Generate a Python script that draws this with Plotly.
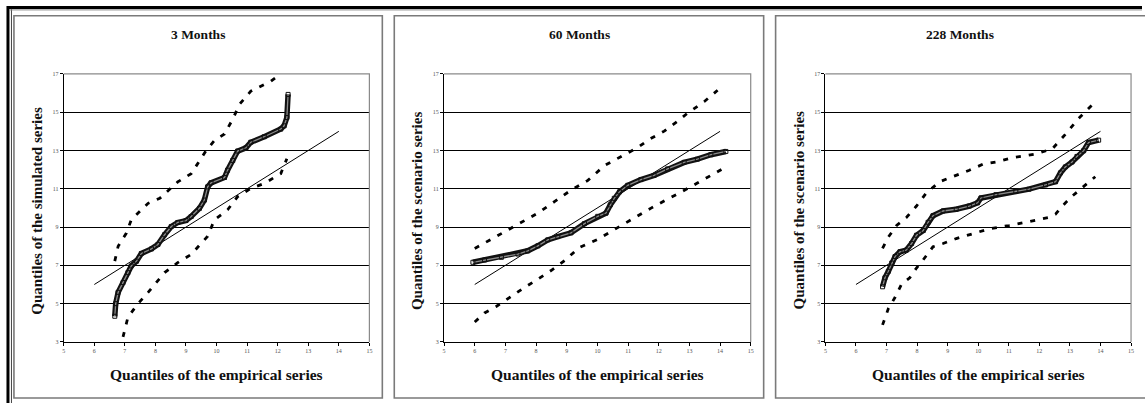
import plotly.graph_objects as go

# ---- Q-Q data (empirical quantile, simulated/scenario quantile) ----
# 3 months
m3_x = [6.67, 6.70, 6.78, 6.94, 7.10, 7.21, 7.38, 7.54, 7.87, 8.08, 8.30, 8.52, 8.73, 9.00,
        9.17, 9.44, 9.60, 9.71, 9.82, 10.26, 10.36, 10.53, 10.69, 10.96, 11.12, 11.56, 12.10,
        12.21, 12.30, 12.34]
m3_y = [4.34, 5.00, 5.59, 6.10, 6.62, 6.97, 7.22, 7.62, 7.86, 8.09, 8.60, 9.03, 9.24, 9.34,
        9.55, 9.98, 10.41, 11.10, 11.31, 11.59, 11.97, 12.48, 12.97, 13.14, 13.43, 13.72, 14.12,
        14.29, 14.72, 15.93]
m3_up_x = [6.67, 6.78, 7.05, 7.21, 7.76, 8.14, 8.73, 9.17, 9.66, 9.93, 10.26, 10.53, 10.75,
           11.12, 11.78, 12.10]
m3_up_y = [7.22, 8.00, 8.69, 9.38, 10.24, 10.50, 11.36, 11.79, 13.00, 13.52, 13.86, 14.64,
           15.41, 16.10, 16.62, 17.00]
m3_lo_x = [6.94, 7.10, 7.43, 7.76, 8.30, 8.73, 9.17, 9.71, 9.93, 10.36, 10.69, 11.12, 11.56,
           12.10, 12.30]
m3_lo_y = [3.26, 4.29, 5.00, 5.59, 6.62, 7.14, 7.57, 8.52, 9.38, 9.90, 10.59, 11.02, 11.28,
           11.79, 12.57]

# 60 months
m60_x = [5.94, 6.32, 6.87, 7.41, 7.73, 8.06, 8.38, 8.71, 9.14, 9.58, 10.01, 10.28, 10.42,
         10.55, 10.72, 10.99, 11.42, 11.85, 12.29, 12.83, 13.26, 13.70, 14.19]
m60_y = [7.16, 7.28, 7.42, 7.59, 7.76, 8.02, 8.33, 8.50, 8.70, 9.18, 9.56, 9.73, 10.16,
         10.50, 10.84, 11.18, 11.48, 11.70, 12.04, 12.38, 12.55, 12.78, 12.95]
m60_up_x = [6.00, 6.43, 7.08, 7.57, 8.06, 8.60, 9.14, 9.69, 10.23, 10.88, 11.31, 11.69,
            12.18, 12.61, 12.94, 13.48, 13.92]
m60_up_y = [7.88, 8.27, 8.87, 9.30, 9.73, 10.33, 10.93, 11.44, 12.21, 12.78, 13.15, 13.58,
            14.01, 14.52, 14.95, 15.55, 16.15]
m60_lo_x = [6.00, 6.32, 6.70, 7.08, 7.57, 8.00, 8.49, 8.93, 9.41, 10.01, 10.55, 10.99,
            11.31, 11.75, 12.23, 12.61, 13.26, 13.70, 14.08]
m60_lo_y = [4.04, 4.51, 4.85, 5.28, 5.79, 6.22, 6.73, 7.25, 7.93, 8.36, 8.87, 9.30, 9.59,
            9.99, 10.41, 10.72, 11.30, 11.70, 12.04]

# 228 months
m228_x = [6.87, 6.95, 7.06, 7.17, 7.28, 7.44, 7.65, 7.82, 7.98, 8.20, 8.36, 8.52, 8.85,
          9.28, 9.71, 9.98, 10.09, 10.58, 11.23, 11.66, 12.20, 12.53, 12.69, 12.85, 13.07,
          13.23, 13.45, 13.61, 13.94]
m228_y = [5.88, 6.35, 6.69, 7.12, 7.46, 7.71, 7.80, 8.14, 8.57, 8.82, 9.25, 9.59, 9.84,
          9.93, 10.10, 10.27, 10.52, 10.69, 10.86, 10.98, 11.20, 11.37, 11.83, 12.14, 12.40,
          12.69, 12.99, 13.42, 13.54]
m228_up_x = [6.87, 7.06, 7.33, 7.65, 7.98, 8.30, 8.74, 9.17, 9.71, 10.15, 10.58, 11.12,
             11.88, 12.42, 12.85, 13.29, 13.72]
m228_up_y = [7.89, 8.48, 9.08, 9.50, 10.10, 10.78, 11.37, 11.63, 11.97, 12.28, 12.40, 12.62,
             12.82, 13.08, 13.84, 14.69, 15.37]
m228_lo_x = [6.87, 7.06, 7.28, 7.49, 7.76, 7.98, 8.20, 8.52, 8.85, 9.28, 9.82, 10.36,
             11.01, 11.66, 12.31, 12.53, 12.75, 13.07, 13.45, 13.83]
m228_lo_y = [3.89, 4.74, 5.33, 6.01, 6.35, 6.86, 7.29, 7.97, 8.14, 8.40, 8.65, 8.91, 9.08,
             9.28, 9.50, 9.67, 10.10, 10.61, 11.12, 11.63]

# 45-degree reference line
ref_x = [6, 14]
ref_y = [6, 14]

titles = ["3 Months", "60 Months", "228 Months"]
y_titles = ["Quantiles of the simulated series",
            "Quantiles of the scenario series",
            "Quantiles of the scenario series"]
x_title = "Quantiles of the empirical series"
x_ticks = list(range(5, 16))
y_ticks = list(range(3, 18, 2))

panels = [
    (m3_x, m3_y, m3_up_x, m3_up_y, m3_lo_x, m3_lo_y),
    (m60_x, m60_y, m60_up_x, m60_up_y, m60_lo_x, m60_lo_y),
    (m228_x, m228_y, m228_up_x, m228_up_y, m228_lo_x, m228_lo_y),
]

# ---- layout geometry (pixels) ----
W, H = 1145, 406
plot_left = [62, 444, 827]
plot_right = [369, 752, 1134]
plot_top, plot_bottom = 72, 344
box_left = [12, 394, 777]
box_right = [382, 765, 1152]
box_top, box_bottom = 13, 401
title_cx = [197, 580, 962]


def px(x):
    return x / W


def py(y):
    return 1 - y / H


SERIF = "Liberation Serif, Times New Roman, serif"

fig = go.Figure()
layout = dict(
    width=W, height=H,
    margin=dict(l=0, r=0, t=0, b=0),
    paper_bgcolor="white", plot_bgcolor="white",
    showlegend=False,
    font=dict(family=SERIF, color="black"),
)

shapes = []
annotations = []

for i, (qx, qy, ux, uy, lx, ly) in enumerate(panels):
    n = "" if i == 0 else str(i + 1)
    xa, ya = "x" + n, "y" + n
    common = dict(showline=True, linecolor="black", linewidth=1, ticks="outside",
                  ticklen=3, tickcolor="black", tickwidth=1,
                  tickfont=dict(size=6, color="#555", family=SERIF), zeroline=False)
    layout["xaxis" + n] = dict(domain=[px(plot_left[i]), px(plot_right[i])], anchor=ya,
                               range=[5, 15], tickvals=x_ticks, showgrid=False, **common)
    layout["yaxis" + n] = dict(domain=[py(plot_bottom), py(plot_top)], anchor=xa,
                               range=[3, 17], tickvals=y_ticks, showgrid=True,
                               gridcolor="black", gridwidth=1.4, **common)

    # confidence bands
    for bx, by in ((ux, uy), (lx, ly)):
        fig.add_trace(go.Scatter(x=bx, y=by, mode="lines", xaxis=xa, yaxis=ya,
                                 line=dict(color="black", width=2.8, dash="5px,8px"),
                                 hoverinfo="skip"))
    # reference line
    fig.add_trace(go.Scatter(x=ref_x, y=ref_y, mode="lines", xaxis=xa, yaxis=ya,
                             line=dict(color="black", width=1), hoverinfo="skip"))
    # Q-Q points: thick band of open squares
    fig.add_trace(go.Scatter(x=qx, y=qy, mode="lines", xaxis=xa, yaxis=ya,
                             line=dict(color="#111", width=5.5), hoverinfo="skip"))
    fig.add_trace(go.Scatter(x=qx, y=qy, mode="lines+markers", xaxis=xa, yaxis=ya,
                             line=dict(color="#8a8a8a", width=1.3),
                             marker=dict(symbol="square-open", size=4, color="#111",
                                         line=dict(width=1)),
                             hoverinfo="skip"))

    # plot-area border (top and right in gray)
    shapes.append(dict(type="path", xref="paper", yref="paper",
                       path=f"M {px(plot_left[i])},{py(plot_top)} L {px(plot_right[i])},{py(plot_top)} "
                            f"L {px(plot_right[i])},{py(plot_bottom)}",
                       line=dict(color="#8a8a8a", width=1.2), layer="above"))
    # panel frame
    shapes.append(dict(type="rect", xref="paper", yref="paper",
                       x0=px(box_left[i]), x1=px(box_right[i]),
                       y0=py(box_bottom), y1=py(box_top),
                       line=dict(color="#7a7a7a", width=1.6), layer="above"))

    annotations.append(dict(text=f"<b>{titles[i]}</b>", xref="paper", yref="paper",
                            x=px(title_cx[i]), y=py(32), xanchor="center", yanchor="middle",
                            showarrow=False,
                            font=dict(size=13.5, family=SERIF, color="#111")))
    annotations.append(dict(text=f"<b>{y_titles[i]}</b>", xref="paper", yref="paper",
                            x=px(box_left[i] + 23), y=py(211), xanchor="center",
                            yanchor="middle", textangle=-90, showarrow=False,
                            font=dict(size=15, family=SERIF, color="#111")))
    annotations.append(dict(text=f"<b>{x_title}</b>", xref="paper", yref="paper",
                            x=px((plot_left[i] + plot_right[i]) / 2), y=py(377),
                            xanchor="center", yanchor="middle", showarrow=False,
                            font=dict(size=15.5, family=SERIF, color="#111")))

# outer double border (top and left)
shapes.append(dict(type="line", xref="paper", yref="paper", x0=px(5), x1=1,
                   y0=py(4.5), y1=py(4.5), line=dict(color="black", width=3)))
shapes.append(dict(type="line", xref="paper", yref="paper", x0=px(6), x1=px(6),
                   y0=py(3), y1=0, line=dict(color="black", width=3)))
shapes.append(dict(type="line", xref="paper", yref="paper", x0=px(9.5), x1=px(9.5),
                   y0=py(6), y1=0, line=dict(color="#444", width=1)))
shapes.append(dict(type="line", xref="paper", yref="paper", x0=px(8), x1=1,
                   y0=py(7), y1=py(7), line=dict(color="#888", width=1)))

layout["shapes"] = shapes
layout["annotations"] = annotations
fig.update_layout(**layout)

fig.write_html("out.html")
